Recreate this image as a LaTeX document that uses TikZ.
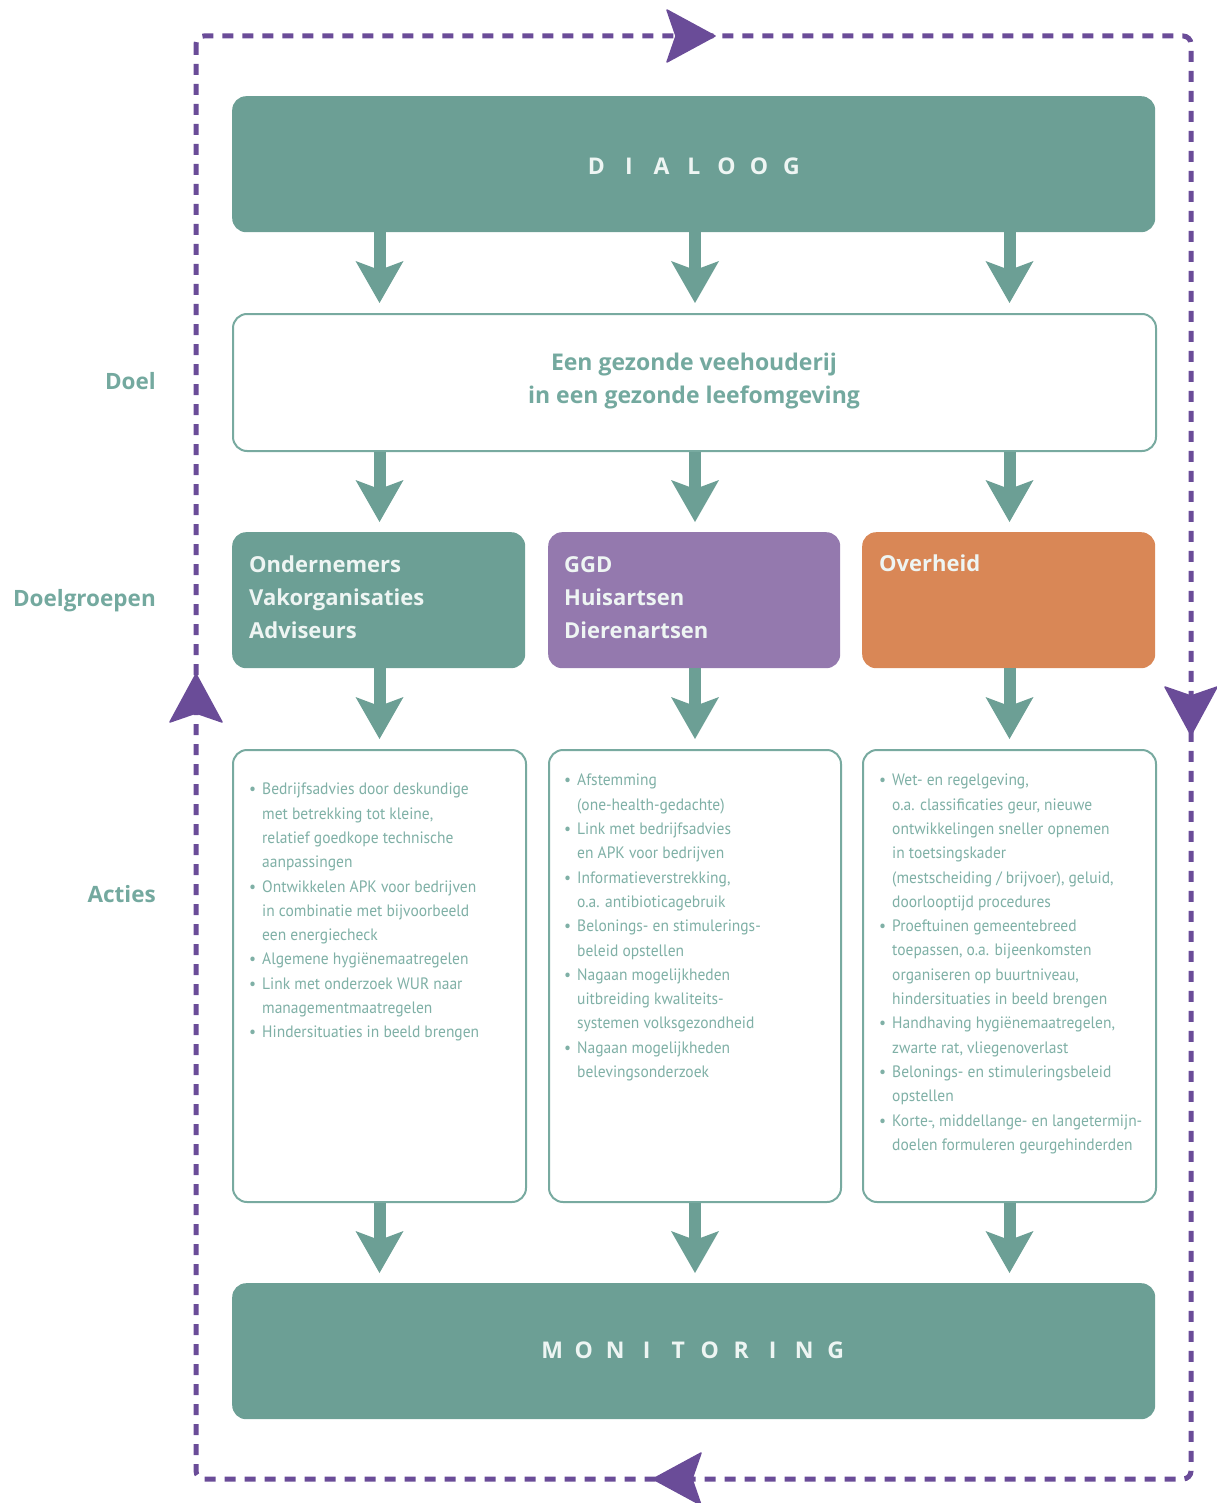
\documentclass[tikz,border=0pt]{standalone}
\usepackage{fontspec}
\setmainfont{PT Sans}
\newfontfamily\headfont{Open Sans}
\newfontfamily\actfont[FakeStretch=0.94]{PT Sans}
\usetikzlibrary{arrows.meta}
\definecolor{tealbox}{HTML}{6C9F95}
\definecolor{purplebox}{HTML}{9479AE}
\definecolor{orangebox}{HTML}{D98756}
\definecolor{boxline}{HTML}{78AAA0}
\definecolor{acttext}{HTML}{7FB0A6}
\definecolor{labteal}{HTML}{74A99F}
\definecolor{loopc}{HTML}{6A4C98}
\definecolor{offwhite}{HTML}{EEF5F3}
\newcommand{\bl}[1]{\makebox[13pt][l]{\textbullet}#1}
\newcommand{\cl}[1]{\hspace*{13pt}#1}
\newcommand{\spc}[2]{\makebox[#1]{#2}}
\begin{document}
\begin{tikzpicture}[x=1pt,y=-1pt,
  tealfill/.style={fill=tealbox, draw=none, rounded corners=14pt, inner sep=0pt, anchor=north west},
  colorbox/.style={draw=none, rounded corners=14pt, inner sep=0pt, anchor=north west, minimum width=293pt, minimum height=136pt},
  whitebox/.style={fill=white, draw=boxline, line width=2pt, rounded corners=14pt, inner sep=0pt, anchor=north west},
  flow/.style={draw=tealbox, line width=12pt, -{Stealth[length=42pt,width=48pt,inset=9pt,line width=0pt]}, shorten >=10pt},
  loopline/.style={draw=loopc, line width=5pt, dash pattern=on 11pt off 9pt, rounded corners=8pt},
  looptip/.style={fill=loopc, draw=loopc, line width=1.5pt, line join=round},
  sidelab/.style={text=labteal, font=\headfont\fontsize{22.5}{28}\selectfont\bfseries, anchor=base east, inner sep=0pt},
  grouptext/.style={text=offwhite, font=\headfont\fontsize{22}{33}\selectfont\bfseries, anchor=north west, inner sep=0pt, align=left},
  acttxt/.style={text=acttext, font=\actfont\fontsize{16.5}{24.3}\selectfont, anchor=north west, inner sep=0pt, align=left},
  spaced/.style={text=offwhite, font=\headfont\fontsize{23}{26}\selectfont\bfseries, inner sep=0pt}
]
\useasboundingbox (0,0) rectangle (1216,1503);

% feedback loop: arrowheads first, dashed line on top
\coordinate (tTop) at (716,36);
\coordinate (tRight) at (1191,736);
\coordinate (tBot) at (652,1479);
\coordinate (tLeft) at (196,673);
\foreach \c/\r in {tTop/0, tRight/-90, tBot/180, tLeft/90} {
  \filldraw[looptip, shift={(\c)}, rotate=\r] (-1,0) -- (-49,-26) -- (-40,0) -- (-49,26) -- cycle;
}
\draw[loopline] (196,36) rectangle (1191,1479);

% boxes
\node[tealfill, minimum width=923pt, minimum height=136pt] (dialoog) at (232,96) {};
\node[spaced] (dialoogtxt) at (694,166) {\spc{32.5pt}{D}\spc{32.5pt}{I}\spc{32.5pt}{A}\spc{32.5pt}{L}\spc{32.5pt}{O}\spc{32.5pt}{O}\spc{32.5pt}{G}};

\node[whitebox, minimum width=923pt, minimum height=137pt] (doel) at (232,313) {};
\node[text=labteal, font=\headfont\fontsize{23}{33}\selectfont\bfseries, align=center, inner sep=0pt] (doeltxt) at (694,381) {Een gezonde veehouderij\\in een gezonde leefomgeving};

\node[colorbox, fill=tealbox] (g1) at (232,532) {};
\node[colorbox, fill=purplebox, minimum width=292pt] (g2) at (548,532) {};
\node[colorbox, fill=orangebox] (g3) at (862,532) {};
\node[grouptext] (g1txt) at (249,556) {Ondernemers\\Vakorganisaties\\Adviseurs};
\node[grouptext] (g2txt) at (564,556) {GGD\\Huisartsen\\Dierenartsen};
\node[grouptext] (g3txt) at (879,555) {Overheid};

\node[whitebox, minimum width=293pt, minimum height=452pt] (a1) at (232,749) {};
\node[whitebox, minimum width=292pt, minimum height=452pt] (a2) at (548,749) {};
\node[whitebox, minimum width=293pt, minimum height=452pt] (a3) at (862,749) {};

\node[acttxt] (a1txt) at (249,783) {\bl{Bedrijfsadvies door deskundige}\\\cl{met betrekking tot kleine,}\\\cl{relatief goedkope technische}\\\cl{aanpassingen}\\\bl{Ontwikkelen APK voor bedrijven}\\\cl{in combinatie met bijvoorbeeld}\\\cl{een energiecheck}\\\bl{Algemene hygiënemaatregelen}\\\bl{Link met onderzoek WUR naar}\\\cl{managementmaatregelen}\\\bl{Hindersituaties in beeld brengen}};
\node[acttxt] (a2txt) at (564,774) {\bl{Afstemming}\\\cl{(one-health-gedachte)}\\\bl{Link met bedrijfsadvies}\\\cl{en APK voor bedrijven}\\\bl{Informatieverstrekking,}\\\cl{o.a. antibioticagebruik}\\\bl{Belonings- en stimulerings-}\\\cl{beleid opstellen}\\\bl{Nagaan mogelijkheden}\\\cl{uitbreiding kwaliteits-}\\\cl{systemen volksgezondheid}\\\bl{Nagaan mogelijkheden}\\\cl{belevingsonderzoek}};
\node[acttxt] (a3txt) at (879,774) {\bl{Wet- en regelgeving,}\\\cl{o.a. classificaties geur, nieuwe}\\\cl{ontwikkelingen sneller opnemen}\\\cl{in toetsingskader}\\\cl{(mestscheiding / brijvoer), geluid,}\\\cl{doorlooptijd procedures}\\\bl{Proeftuinen gemeentebreed}\\\cl{toepassen, o.a. bijeenkomsten}\\\cl{organiseren op buurtniveau,}\\\cl{hindersituaties in beeld brengen}\\\bl{Handhaving hygiënemaatregelen,}\\\cl{zwarte rat, vliegenoverlast}\\\bl{Belonings- en stimuleringsbeleid}\\\cl{opstellen}\\\bl{Korte-, middellange- en langetermijn-}\\\cl{doelen formuleren geurgehinderden}};

\node[tealfill, minimum width=923pt, minimum height=136pt] (monitoring) at (232,1283) {};
\node[spaced] (montxt) at (694,1350) {\spc{31.5pt}{M}\spc{31.5pt}{O}\spc{31.5pt}{N}\spc{31.5pt}{I}\spc{31.5pt}{T}\spc{31.5pt}{O}\spc{31.5pt}{R}\spc{31.5pt}{I}\spc{31.5pt}{N}\spc{31.5pt}{G}};

% side labels
\node[sidelab] (ldoel) at (156,389) {Doel};
\node[sidelab] (lgroep) at (156,606) {Doelgroepen};
\node[sidelab] (lacties) at (156,902) {Acties};

% flow arrows
\foreach \g/\a in {g1/a1, g2/a2, g3/a3} {
  \draw[flow] (dialoog.south -| \a.north) -- (doel.north -| \a.north);
  \draw[flow] (doel.south -| \a.north) -- (\g.north -| \a.north);
  \draw[flow] (\g.south -| \a.north) -- (\a.north);
  \draw[flow] (\a.south) -- (monitoring.north -| \a.south);
}
\end{tikzpicture}
\end{document}
